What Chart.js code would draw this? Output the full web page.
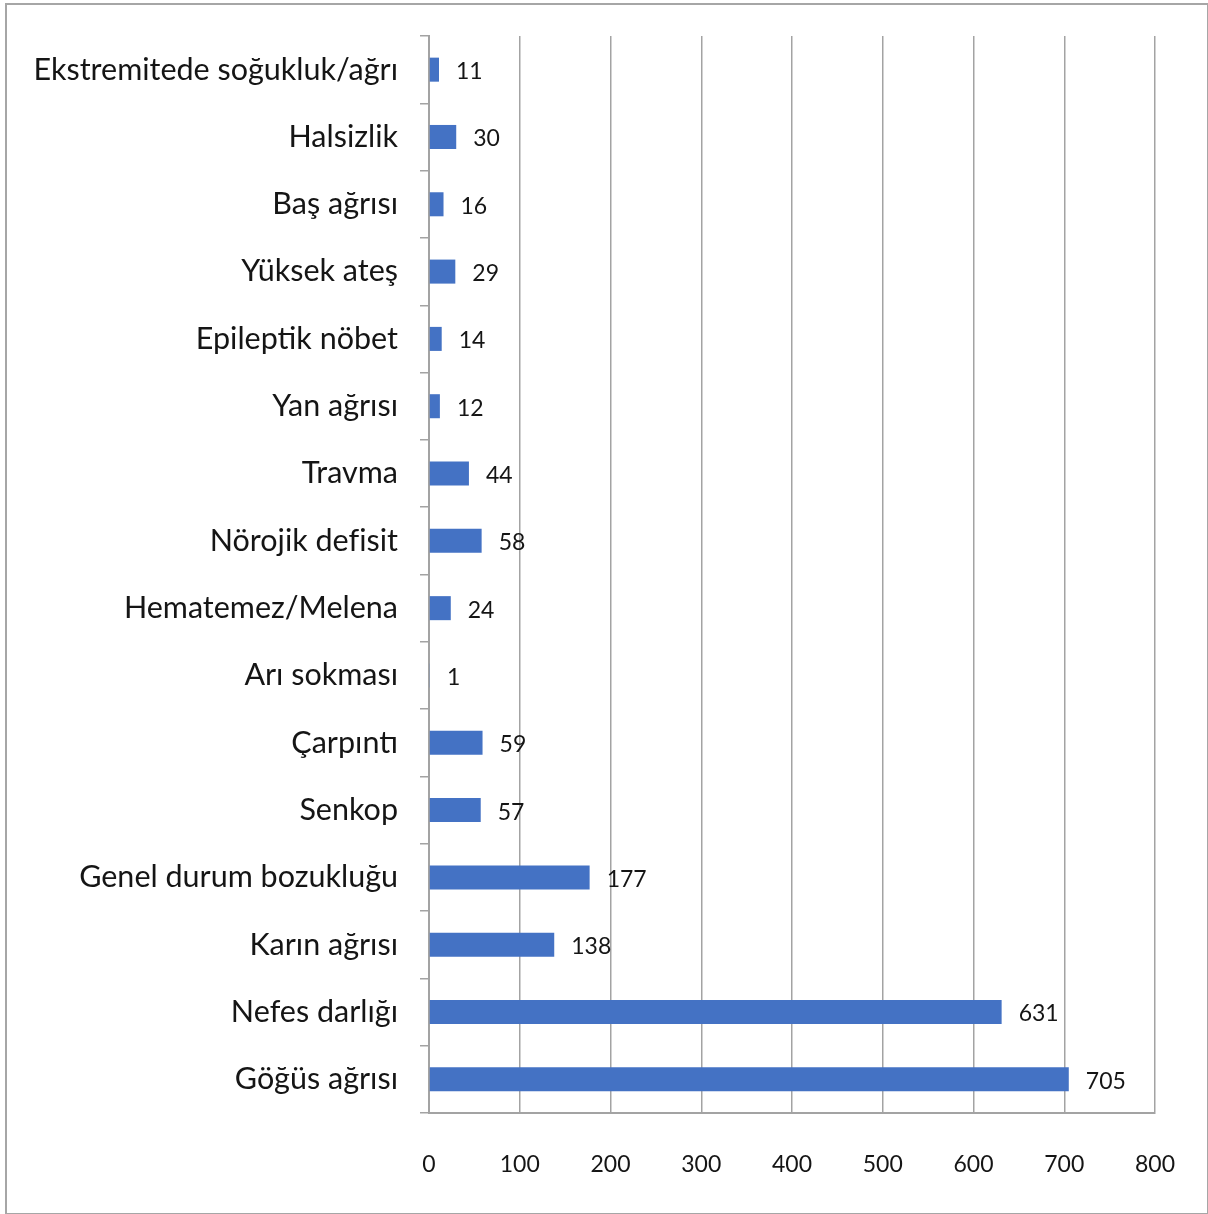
<!DOCTYPE html>
<html lang="tr">
<head>
<meta charset="utf-8">
<title>Başvuru şikayetleri</title>
<script src="https://cdn.jsdelivr.net/npm/chart.js@4"></script>
<style>
  html, body { margin: 0; padding: 0; background: #fff; }
  #wrap { position: relative; width: 1208px; height: 1214px; }
  #frame {
    position: absolute; left: 5px; top: 3px; width: 1200px; height: 1208px;
    border: 2px solid #a6a6a6; pointer-events: none;
  }
</style>
</head>
<body>
<div id="wrap">
  <canvas id="complaintChart" width="1208" height="1214"></canvas>
  <div id="frame"></div>
</div>
<script>
// complaint categories, top to bottom
const complaints = [
  "Ekstremitede soğukluk/ağrı",
  "Halsizlik",
  "Baş ağrısı",
  "Yüksek ateş",
  "Epileptik nöbet",
  "Yan ağrısı",
  "Travma",
  "Nörojik defisit",
  "Hematemez/Melena",
  "Arı sokması",
  "Çarpıntı",
  "Senkop",
  "Genel durum bozukluğu",
  "Karın ağrısı",
  "Nefes darlığı",
  "Göğüs ağrısı"
];
const patientCounts = [11, 30, 16, 29, 14, 12, 44, 58, 24, 1, 59, 57, 177, 138, 631, 705];
const xTicks = [0, 100, 200, 300, 400, 500, 600, 700, 800];

// writes the count just right of each bar
const valueLabels = {
  id: "valueLabels",
  afterDatasetsDraw(chart) {
    const ctx = chart.ctx;
    const meta = chart.getDatasetMeta(0);
    ctx.save();
    ctx.font = "23px Lato";
    ctx.fillStyle = "#151515";
    ctx.textAlign = "left";
    ctx.textBaseline = "middle";
    meta.data.forEach((bar, i) => {
      ctx.fillText(String(patientCounts[i]), bar.x + 17, bar.y + 2);
    });
    ctx.restore();
  }
};

const ctx = document.getElementById("complaintChart").getContext("2d");
new Chart(ctx, {
  type: "bar",
  data: {
    labels: complaints,
    datasets: [{
      data: patientCounts,
      backgroundColor: "#4472c4",
      borderWidth: 0,
      categoryPercentage: 1,
      barPercentage: 0.357
    }]
  },
  options: {
    indexAxis: "y",
    responsive: false,
    animation: false,
    layout: { padding: { top: 36, right: 53, left: 0, bottom: 0 } },
    plugins: {
      legend: { display: false },
      tooltip: { enabled: false }
    },
    scales: {
      x: {
        min: 0,
        max: 800,
        afterBuildTicks(scale) {
          scale.ticks = xTicks.map(v => ({ value: v }));
        },
        afterFit(scale) {
          scale.height = 101;
          // the big tick padding would otherwise widen the side margins
          scale.paddingLeft = 0;
          scale.paddingRight = 0;
        },
        grid: {
          color: "#a3a3a3",
          lineWidth: 1.5,
          drawTicks: false
        },
        border: { display: true, color: "#a3a3a3", width: 2 },
        ticks: {
          padding: 38,
          color: "#151515",
          font: { family: "Lato", size: 23 }
        }
      },
      y: {
        afterFit(scale) {
          scale.width = 429;
          scale.paddingTop = 0;
          scale.paddingBottom = 0;
        },
        grid: {
          offset: true,
          drawOnChartArea: false,
          drawTicks: true,
          tickLength: 9,
          color: "#a3a3a3",
          lineWidth: 1.5
        },
        border: { display: true, color: "#a3a3a3", width: 2 },
        ticks: {
          padding: 22,
          color: "#151515",
          font: { family: "Lato", size: 30.5 }
        }
      }
    }
  },
  plugins: [valueLabels]
});
</script>
</body>
</html>
